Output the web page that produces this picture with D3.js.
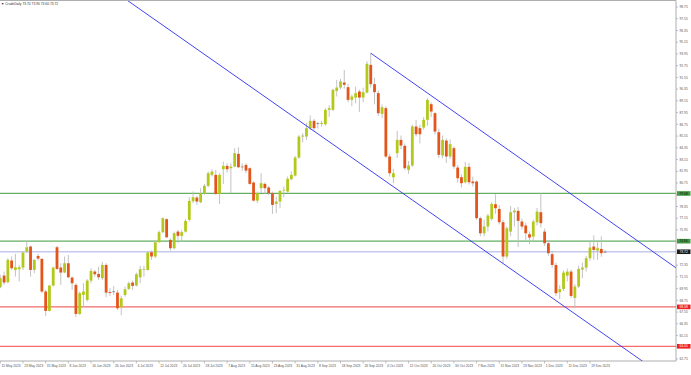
<!DOCTYPE html>
<html>
<head>
<meta charset="utf-8">
<script src="https://cdn.jsdelivr.net/npm/d3@7"></script>
<style>
  html, body { margin: 0; padding: 0; background: #fff; overflow: hidden; }
  svg { display: block; }
  text { font-family: "Liberation Sans", Arial, sans-serif; }
</style>
</head>
<body>
<svg id="chart" width="691" height="375"></svg>
<script>
// trading days shown on the chart
var dates = [
  "15 May 2023","16 May 2023","17 May 2023","18 May 2023","19 May 2023","22 May 2023","23 May 2023","24 May 2023","25 May 2023","26 May 2023","29 May 2023","30 May 2023","31 May 2023",
  "1 Jun 2023","2 Jun 2023","5 Jun 2023","6 Jun 2023","7 Jun 2023","8 Jun 2023","9 Jun 2023","12 Jun 2023","13 Jun 2023","14 Jun 2023","15 Jun 2023","16 Jun 2023","19 Jun 2023","20 Jun 2023","21 Jun 2023","22 Jun 2023","23 Jun 2023","26 Jun 2023","27 Jun 2023","28 Jun 2023","29 Jun 2023","30 Jun 2023",
  "3 Jul 2023","4 Jul 2023","5 Jul 2023","6 Jul 2023","7 Jul 2023","10 Jul 2023","11 Jul 2023","12 Jul 2023","13 Jul 2023","14 Jul 2023","17 Jul 2023","18 Jul 2023","19 Jul 2023","20 Jul 2023","21 Jul 2023","24 Jul 2023","25 Jul 2023","26 Jul 2023","27 Jul 2023","28 Jul 2023","31 Jul 2023",
  "1 Aug 2023","2 Aug 2023","3 Aug 2023","4 Aug 2023","7 Aug 2023","8 Aug 2023","9 Aug 2023","10 Aug 2023","11 Aug 2023","14 Aug 2023","15 Aug 2023","16 Aug 2023","17 Aug 2023","18 Aug 2023","21 Aug 2023","22 Aug 2023","23 Aug 2023","24 Aug 2023","25 Aug 2023","28 Aug 2023","29 Aug 2023","30 Aug 2023","31 Aug 2023",
  "1 Sep 2023","4 Sep 2023","5 Sep 2023","6 Sep 2023","7 Sep 2023","8 Sep 2023","11 Sep 2023","12 Sep 2023","13 Sep 2023","14 Sep 2023","15 Sep 2023","18 Sep 2023","19 Sep 2023","20 Sep 2023","21 Sep 2023","22 Sep 2023","25 Sep 2023","26 Sep 2023","27 Sep 2023","28 Sep 2023","29 Sep 2023",
  "2 Oct 2023","3 Oct 2023","4 Oct 2023","5 Oct 2023","6 Oct 2023","9 Oct 2023","10 Oct 2023","11 Oct 2023","12 Oct 2023","13 Oct 2023","16 Oct 2023","17 Oct 2023","18 Oct 2023","19 Oct 2023","20 Oct 2023","23 Oct 2023","24 Oct 2023","25 Oct 2023","26 Oct 2023","27 Oct 2023","30 Oct 2023","31 Oct 2023",
  "1 Nov 2023","2 Nov 2023","3 Nov 2023","6 Nov 2023","7 Nov 2023","8 Nov 2023","9 Nov 2023","10 Nov 2023","13 Nov 2023","14 Nov 2023","15 Nov 2023","16 Nov 2023","17 Nov 2023","20 Nov 2023","21 Nov 2023","22 Nov 2023","23 Nov 2023","24 Nov 2023","27 Nov 2023","28 Nov 2023","29 Nov 2023","30 Nov 2023",
  "1 Dec 2023","4 Dec 2023","5 Dec 2023","6 Dec 2023","7 Dec 2023","8 Dec 2023","11 Dec 2023","12 Dec 2023","13 Dec 2023","14 Dec 2023","15 Dec 2023","18 Dec 2023","19 Dec 2023","20 Dec 2023","21 Dec 2023","22 Dec 2023","26 Dec 2023"
];

var open = [
  70.09,71.28,70.60,72.82,71.86,71.93,72.10,73.74,74.25,71.86,73.29,72.99,69.65,
  67.67,70.26,74.18,72.10,71.59,72.54,71.08,70.33,67.36,69.31,68.79,70.77,71.69,71.45,71.01,72.37,69.60,69.62,69.54,68.04,69.30,69.92,
  70.57,70.26,71.11,71.86,71.86,73.67,73.23,74.69,75.72,77.05,74.93,74.08,75.78,75.34,75.78,76.98,78.89,79.26,78.78,79.64,80.46,
  81.58,81.58,79.64,82.16,82.50,82.26,82.43,83.73,82.43,82.60,82.26,80.80,78.95,80.22,80.66,80.29,79.71,78.61,78.85,79.98,79.88,81.14,81.51,
  83.35,85.50,85.50,86.36,87.11,86.80,86.80,86.76,88.23,88.23,90.17,90.51,91.03,90.55,89.25,89.49,90.11,89.49,90.00,92.83,90.86,
  89.94,87.82,88.40,83.46,81.34,83.80,85.16,84.55,82.09,82.54,86.53,86.36,86.42,87.21,88.81,87.89,85.95,83.56,85.09,83.46,84.31,82.33,
  81.34,80.83,82.40,80.90,80.90,77.15,75.61,76.30,77.08,78.58,78.10,76.74,73.23,75.78,77.76,77.90,76.81,76.40,75.51,75.27,76.74,77.76,
  75.78,74.59,73.47,72.37,69.58,69.92,71.28,71.69,69.00,70.16,71.90,72.10,73.06,74.25,73.84,74.01,73.70
];
var high = [
  71.35,71.69,73.06,73.23,73.50,72.37,73.74,74.76,74.35,72.95,73.50,73.06,69.82,
  70.33,72.20,74.32,72.54,73.23,73.40,71.18,70.50,69.65,70.50,70.91,72.03,71.86,72.20,72.71,72.54,70.00,70.20,69.82,69.20,70.16,70.67,
  70.77,71.59,72.27,72.27,73.74,73.84,74.83,75.89,77.25,77.15,75.10,75.78,75.95,75.95,77.05,79.30,79.88,79.43,80.22,80.66,81.92,
  82.16,82.09,81.75,82.94,82.77,82.77,84.31,84.41,82.77,82.77,82.36,80.90,79.88,81.75,80.80,80.46,79.88,79.36,80.05,80.39,81.41,81.92,83.52,
  85.67,85.85,86.90,87.65,87.30,87.00,87.10,88.40,88.70,90.40,91.30,91.40,92.30,90.90,89.80,90.60,90.30,90.50,93.20,94.03,91.50,
  90.20,88.80,88.60,83.70,82.20,86.08,85.60,84.80,83.00,86.70,87.20,86.70,87.50,89.42,89.00,88.00,86.30,85.60,85.30,85.20,84.50,82.60,
  81.60,82.90,82.80,81.40,81.00,77.30,77.00,77.60,78.80,79.60,78.50,77.00,76.30,78.40,78.20,78.30,77.10,76.70,75.80,77.00,78.20,79.70,
  76.10,74.90,73.80,72.60,70.30,71.80,72.00,71.90,70.40,72.30,72.60,73.30,74.90,75.40,74.90,75.30,73.90
];
var low = [
  69.99,70.33,70.50,71.86,71.18,70.67,71.86,73.57,71.18,71.52,72.82,69.48,67.16,
  67.60,70.16,71.86,70.33,71.52,71.01,69.82,67.02,67.26,68.11,68.62,70.50,71.18,70.84,70.84,69.07,69.20,69.30,67.77,67.23,69.13,69.82,
  69.82,70.16,70.50,71.18,71.79,72.89,73.06,74.66,75.61,75.10,73.84,73.98,74.59,74.76,75.68,76.81,78.68,78.51,78.68,79.53,80.32,
  81.41,79.53,78.61,80.66,81.82,79.71,82.36,82.26,82.00,81.75,80.56,78.85,78.68,79.71,79.64,79.53,77.59,77.66,78.17,79.30,79.78,81.04,81.41,
  83.25,84.90,85.16,86.18,86.10,86.30,86.50,86.60,87.50,88.10,89.60,90.30,90.40,89.00,88.60,88.90,88.00,89.00,89.90,90.50,88.80,
  87.60,87.40,83.30,81.40,80.73,83.30,84.20,82.10,81.70,82.40,85.50,84.80,86.20,86.60,87.50,85.70,83.30,83.30,82.80,83.20,82.20,80.80,
  80.30,80.70,80.60,80.40,77.00,75.30,75.30,75.80,76.90,77.60,76.50,72.54,73.00,75.30,76.30,74.20,76.00,74.90,74.50,74.90,76.40,76.20,
  74.30,73.30,72.10,69.20,68.90,69.70,70.70,69.00,67.94,70.00,71.00,71.70,72.80,72.90,72.90,73.20,73.60
];
var close = [
  71.01,70.57,72.89,72.03,72.13,72.13,73.64,74.18,71.86,72.89,73.02,69.65,67.67,
  70.26,72.10,71.96,71.59,72.54,71.11,70.50,67.36,69.48,69.65,70.77,71.76,71.42,71.11,72.37,69.54,69.50,69.66,67.94,68.96,69.88,70.50,
  70.23,71.42,71.93,71.93,73.64,73.23,74.69,75.72,77.15,75.20,74.08,75.61,75.34,75.72,76.87,78.92,79.30,78.85,79.71,80.46,81.75,
  81.92,79.64,81.58,82.50,82.16,82.43,83.80,82.36,82.36,82.02,80.66,78.95,79.71,80.73,80.22,79.71,78.51,78.85,79.94,80.05,81.17,81.58,83.35,
  85.50,85.60,86.36,87.11,86.36,86.85,86.90,88.23,88.40,90.28,90.51,91.13,90.79,89.25,89.59,89.94,89.49,90.04,92.94,90.86,90.04,
  87.89,88.50,83.46,81.75,81.75,85.16,84.58,82.26,82.54,86.53,85.74,85.74,87.21,89.25,88.06,86.01,83.63,85.16,83.46,84.72,82.43,81.24,
  80.73,82.40,80.83,80.73,77.15,75.61,76.30,77.42,78.61,78.17,76.74,73.23,76.13,77.76,77.93,76.88,76.30,75.61,75.17,76.81,77.83,76.64,
  74.59,73.57,72.37,69.48,69.89,71.59,71.69,69.20,70.16,71.96,72.10,73.06,74.15,73.91,74.08,73.57,73.72
];

// right price scale labels
var priceTicks = [62.75,63.95,65.15,66.35,67.55,68.75,69.95,71.15,72.35,73.55,74.75,75.95,77.15,78.35,79.55,
  80.75,81.95,83.15,84.35,85.55,86.75,87.95,89.15,90.35,91.55,92.75,93.95,95.15,96.35,97.55,98.75];

// time scale labels
var dateTicks = ["15 May 2023","23 May 2023","31 May 2023","8 Jun 2023","16 Jun 2023","26 Jun 2023","4 Jul 2023",
  "12 Jul 2023","20 Jul 2023","28 Jul 2023","7 Aug 2023","15 Aug 2023","23 Aug 2023","31 Aug 2023","8 Sep 2023",
  "18 Sep 2023","26 Sep 2023","4 Oct 2023","12 Oct 2023","20 Oct 2023","30 Oct 2023","7 Nov 2023","15 Nov 2023",
  "23 Nov 2023","1 Dec 2023","11 Dec 2023","19 Dec 2023"];

// horizontal levels
var levelPrices = [79.68, 74.80, 68.08, 64.05];
var levelKinds = ["resistance", "resistance", "support", "support"];

// channel anchors (date, price)
var channelUpper = [["28 Sep 2023", 94.03], ["26 Dec 2023", 77.17]];
var channelLower = [["7 Aug 2023", 92.28], ["27 Nov 2023", 70.62]];

var symbol = "CrudeDaily";

var svg = d3.select("#chart");
var plotL = 0, plotR = 676, plotT = 1, plotB = 361;
var n = dates.length;

var x = d3.scaleLinear().domain([0, n - 1]).range([0.3, 0.3 + 3.78 * (n - 1)]);
var y = d3.scaleLinear().domain([62.75, 98.75]).range([359, 7]);

svg.append("rect").attr("width", 691).attr("height", 375).attr("fill", "#fff");

svg.append("defs").append("clipPath").attr("id", "plot")
  .append("rect").attr("x", plotL).attr("y", plotT).attr("width", plotR - plotL).attr("height", plotB - plotT);

var g = svg.append("g").attr("clip-path", "url(#plot)");

var levelColor = { resistance: "#63b063", support: "#f56a6a" };
var levelBox = { resistance: "#3f9a3f", support: "#f01e1e" };

// level lines
g.selectAll(".lvl").data(levelPrices).join("line")
  .attr("x1", plotL).attr("x2", plotR)
  .attr("y1", d => y(d)).attr("y2", d => y(d))
  .attr("stroke", (d, i) => levelColor[levelKinds[i]])
  .attr("stroke-width", 1.2);

// bid line
var last = close[n - 1];
g.append("line")
  .attr("x1", plotL).attr("x2", plotR)
  .attr("y1", y(last)).attr("y2", y(last))
  .attr("stroke", "#c5c9ee").attr("stroke-width", 1.3);

// candles
var idx = d3.range(n);
g.selectAll(".wick").data(idx).join("line")
  .attr("x1", i => x(i)).attr("x2", i => x(i))
  .attr("y1", i => y(high[i])).attr("y2", i => y(low[i]))
  .attr("stroke", "#bcbcbc").attr("stroke-width", 0.9);

g.selectAll(".body").data(idx).join("rect")
  .attr("x", i => x(i) - 1.4).attr("width", 2.8)
  .attr("y", i => y(Math.max(open[i], close[i])))
  .attr("height", i => Math.max(0.7, Math.abs(y(open[i]) - y(close[i]))))
  .attr("fill", i => Math.abs(close[i] - open[i]) < 0.06 ? "#6f6f6f" : (close[i] > open[i] ? "#b2c91c" : "#e4551c"));

// trend channel
function chan(pts, fromStart) {
  var i0 = dates.indexOf(pts[0][0]), i1 = dates.indexOf(pts[1][0]);
  var k = (pts[1][1] - pts[0][1]) / (i1 - i0);
  var a = fromStart ? i0 : -10, b = n + 40;
  g.append("line")
    .attr("x1", x(a)).attr("y1", y(pts[0][1] + k * (a - i0)))
    .attr("x2", x(b)).attr("y2", y(pts[0][1] + k * (b - i0)))
    .attr("stroke", "#2f2ff2").attr("stroke-width", 0.9);
}
chan(channelUpper, true);
chan(channelLower, false);

// frame
var frame = svg.append("g").attr("stroke", "#9a9a9a").attr("stroke-width", 0.8);
frame.append("line").attr("x1", 0).attr("x2", plotR).attr("y1", plotT - 0.5).attr("y2", plotT - 0.5);
frame.append("line").attr("x1", plotR).attr("x2", plotR).attr("y1", plotT - 0.5).attr("y2", plotB);
frame.append("line").attr("x1", 0).attr("x2", plotR).attr("y1", plotB).attr("y2", plotB);

// level tags on the price axis (they cover the regular labels nearby)
var tags = levelPrices.map((p, i) => ({ p: p, bg: levelBox[levelKinds[i]], fg: levelKinds[i] === "resistance" ? "#111" : "#fff" }));
tags.push({ p: last, bg: "#1a1a1a", fg: "#fff" });
var shown = priceTicks.filter(t => tags.every(d => Math.abs(y(t) - y(d.p)) > 4.8));

// price axis
var py = svg.append("g");
py.selectAll("line").data(priceTicks).join("line")
  .attr("x1", plotR).attr("x2", plotR + 2)
  .attr("y1", d => y(d)).attr("y2", d => y(d))
  .attr("stroke", "#9a9a9a").attr("stroke-width", 0.6);
py.selectAll("text").data(shown).join("text")
  .attr("x", plotR + 3.5).attr("y", d => y(d)).attr("dy", "0.36em")
  .attr("font-size", 3.3).attr("fill", "#555")
  .text(d => d.toFixed(2));

var tg = svg.append("g").selectAll("g").data(tags).join("g");
tg.append("rect")
  .attr("x", plotR + 1).attr("y", d => y(d.p) - 2.3)
  .attr("width", 13.5).attr("height", 4.6).attr("fill", d => d.bg);
tg.append("text")
  .attr("x", plotR + 3.5).attr("y", d => y(d.p)).attr("dy", "0.36em")
  .attr("font-size", 3.3).attr("fill", d => d.fg)
  .text(d => d.p.toFixed(2));

// time axis
var tx = svg.append("g");
tx.selectAll("line").data(dateTicks).join("line")
  .attr("x1", d => x(dates.indexOf(d))).attr("x2", d => x(dates.indexOf(d)))
  .attr("y1", plotB).attr("y2", plotB + 2.5)
  .attr("stroke", "#9a9a9a").attr("stroke-width", 0.6);
tx.selectAll("text").data(dateTicks).join("text")
  .attr("x", d => x(dates.indexOf(d)) + 1.2).attr("y", plotB + 6.2)
  .attr("font-size", 3.3).attr("fill", "#555")
  .text(d => d);

// title
svg.append("text").attr("x", 1).attr("y", 5).attr("font-size", 3.3).attr("fill", "#333")
  .text("\u25BC " + symbol + " " + [open[n - 1], high[n - 1], low[n - 1], close[n - 1]].map(v => v.toFixed(2)).join(" "));
</script>
</body>
</html>
